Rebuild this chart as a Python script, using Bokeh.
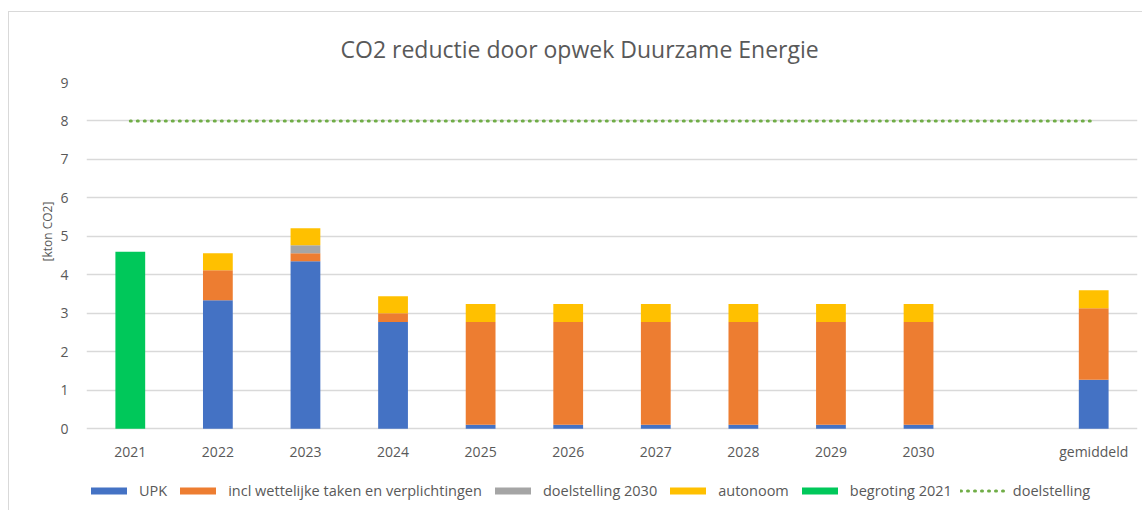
from bokeh.plotting import figure
from bokeh.models import FactorRange, Legend, LegendItem, ColumnDataSource, Range1d, Title
from bokeh.core.properties import value
from bokeh.embed import file_html
from bokeh.resources import INLINE

categories = ["2021", "2022", "2023", "2024", "2025", "2026", "2027", "2028", "2029", "2030", " ", "gemiddeld"]
upk = [0, 3.34, 4.35, 2.77, 0.10, 0.10, 0.10, 0.10, 0.10, 0.10, 0, 1.27]
incl_wettelijk = [0, 0.78, 0.21, 0.23, 2.67, 2.67, 2.67, 2.67, 2.67, 2.67, 0, 1.86]
doelstelling_2030 = [0, 0, 0.21, 0, 0, 0, 0, 0, 0, 0, 0, 0]
autonoom = [0, 0.44, 0.44, 0.44, 0.47, 0.47, 0.47, 0.47, 0.47, 0.47, 0, 0.47]
begroting_2021 = [4.60, 0, 0, 0, 0, 0, 0, 0, 0, 0, 0, 0]
doelstelling = 8.0
y_ticks = [0, 1, 2, 3, 4, 5, 6, 7, 8, 9]

series = ["upk", "incl", "doel2030", "auto", "begr"]
labels = ["UPK", "incl wettelijke taken en verplichtingen", "doelstelling 2030", "autonoom", "begroting 2021"]
colors = ["#4472C4", "#ED7D31", "#A5A5A5", "#FFC000", "#00C85A"]

src = ColumnDataSource(dict(x=categories, upk=upk, incl=incl_wettelijk, doel2030=doelstelling_2030,
                            auto=autonoom, begr=begroting_2021))

FONT = "Open Sans"
TXT = "#595959"

p = figure(x_range=FactorRange(factors=categories, range_padding=0), y_range=Range1d(-1.92, 9),
           width=1134, height=499, output_backend="svg", toolbar_location=None,
           min_border_left=77, min_border_right=6, min_border_top=69, min_border_bottom=9,
           margin=(11, 0, 0, 8))
p.styles = {"border-left": "1px solid #D9D9D9", "border-top": "1px solid #D9D9D9"}

renderers = p.vbar_stack(series, x="x", width=0.34, source=src, color=colors, line_color=None)

dsrc = ColumnDataSource(dict(x=[c for c in categories if c != " "], y=[doelstelling] * 11))
dl = p.line(x="x", y="y", source=dsrc, line_color="#70AD47", line_width=3,
            line_dash="1 6", line_cap="round")

# category labels (drawn as text under the zero line)
lsrc = ColumnDataSource(dict(x=[c for c in categories if c != " "],
                             t=[c for c in categories if c != " "],
                             y=[-0.6] * 11))
p.text(x="x", y="y", text="t", source=lsrc, text_font=value(FONT), text_font_size="14px",
       text_color=TXT, text_align="center", text_baseline="middle")

items = [LegendItem(label=l, renderers=[r]) for l, r in zip(labels, renderers)]
items.append(LegendItem(label="doelstelling", renderers=[dl]))
legend = Legend(items=items, orientation="horizontal", location=(0, 2),
                label_text_font=FONT, label_text_font_size="14.5px", label_text_color=TXT,
                glyph_width=45, glyph_height=9, spacing=8, label_standoff=8,
                border_line_color=None, background_fill_alpha=0, padding=2, margin=0)
p.add_layout(legend, "center")

title = Title(text="CO2 reductie door opwek Duurzame Energie", align="left", offset=254,
              text_font=FONT, text_font_size="23px", text_font_style="normal",
              text_color=TXT, standoff=36)
p.add_layout(title, "above")

ylab = Title(text="[kton CO2]", align="left", offset=241, text_font=FONT,
             text_font_size="12px", text_font_style="normal", text_color=TXT, standoff=4)
p.add_layout(ylab, "left")

p.xaxis.visible = False

p.yaxis.ticker = y_ticks
p.yaxis.axis_line_color = None
p.yaxis.major_tick_line_color = None
p.yaxis.minor_tick_line_color = None
p.yaxis.major_label_text_font = FONT
p.yaxis.major_label_text_font_size = "14px"
p.yaxis.major_label_text_color = TXT
p.yaxis.major_label_standoff = 12

p.xgrid.grid_line_color = None
p.ygrid.ticker = y_ticks
p.ygrid.grid_line_color = "#D9D9D9"
p.ygrid.grid_line_width = 1.3
p.outline_line_color = None

open("out.html", "w").write(file_html(p, INLINE))
